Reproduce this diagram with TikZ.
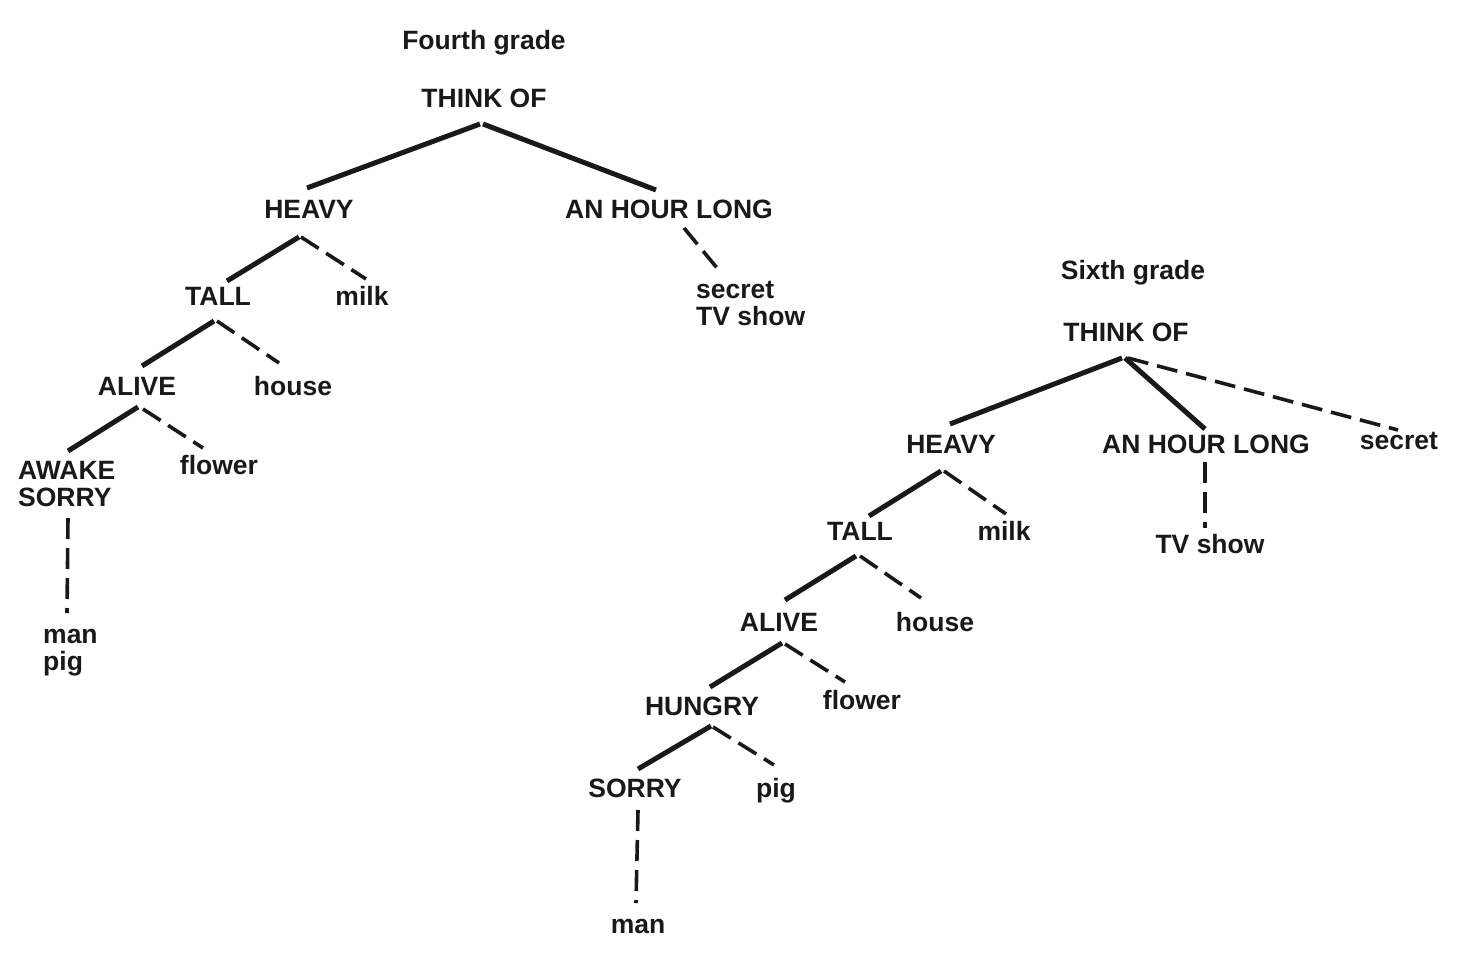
\documentclass[tikz,border=0pt]{standalone}
\usepackage{fontspec}
\setmainfont{Liberation Sans}
\begin{document}
\begin{tikzpicture}[x=1pt,y=-1pt,
  lbl/.style={anchor=base,inner sep=0pt,font=\fontsize{26.5}{27}\selectfont\bfseries,text=black!90},
  lblw/.style={lbl,anchor=base west,align=left},
  solidedge/.style={line width=5pt,black!90,line cap=butt},
  dashedge/.style={line width=3.6pt,black!90,line cap=butt,dash pattern=on 21pt off 9pt}]
\useasboundingbox (0,0) rectangle (1458,958);
% ---------- Fourth grade ----------
\node[lbl] (g4) at (484,50) {Fourth grade};
\node[lbl] (t4) at (484,107) {THINK OF};
\node[lbl] (hv4) at (309,218) {HEAVY};
\node[lbl] (hr4) at (669,218) {AN HOUR LONG};
\node[lblw] (sc4) at (696,325) {secret\\TV show};
\node[lbl] (tl4) at (218,305) {TALL};
\node[lbl] (mk4) at (362,305) {milk};
\node[lbl] (al4) at (137,395) {ALIVE};
\node[lbl] (hs4) at (293,395) {house};
\node[lblw] (aw4) at (18,506) {AWAKE\\SORRY};
\node[lbl] (fl4) at (219,474) {flower};
\node[lblw] (mp4) at (43,670) {man\\pig};
\coordinate (t4a) at (480,124); \coordinate (t4b) at (483,124);
\coordinate (hv4t) at (307,188); \coordinate (hr4t) at (656,190);
\coordinate (hr4b) at (684,228); \coordinate (sc4t) at (722,274);
\coordinate (hv4a) at (299,237); \coordinate (hv4b) at (301,237);
\coordinate (tl4t) at (227,281); \coordinate (mk4t) at (366,279);
\coordinate (tl4a) at (214,321); \coordinate (tl4b) at (217,321);
\coordinate (al4t) at (142,366); \coordinate (hs4t) at (279,363);
\coordinate (al4a) at (138,407); \coordinate (al4b) at (143,409);
\coordinate (aw4t) at (68,451); \coordinate (fl4t) at (203,448);
\coordinate (aw4b) at (68,518); \coordinate (mp4t) at (67,613);
\draw[solidedge] (t4a) -- (hv4t);
\draw[solidedge] (t4b) -- (hr4t);
\draw[dashedge] (hr4b) -- (sc4t);
\draw[solidedge] (hv4a) -- (tl4t);
\draw[dashedge] (hv4b) -- (mk4t);
\draw[solidedge] (tl4a) -- (al4t);
\draw[dashedge] (tl4b) -- (hs4t);
\draw[solidedge] (al4a) -- (aw4t);
\draw[dashedge] (al4b) -- (fl4t);
\draw[dashedge] (aw4b) -- (mp4t);
% ---------- Sixth grade ----------
\node[lbl] (g6) at (1133,279) {Sixth grade};
\node[lbl] (t6) at (1126,341) {THINK OF};
\node[lbl] (hv6) at (951,453) {HEAVY};
\node[lbl] (hr6) at (1206,453) {AN HOUR LONG};
\node[lbl] (sc6) at (1399,449) {secret};
\node[lbl] (tv6) at (1210,553) {TV show};
\node[lbl] (tl6) at (860,540) {TALL};
\node[lbl] (mk6) at (1004,540) {milk};
\node[lbl] (al6) at (779,631) {ALIVE};
\node[lbl] (hs6) at (935,631) {house};
\node[lbl] (hu6) at (702,715) {HUNGRY};
\node[lbl] (fl6) at (862,709) {flower};
\node[lbl] (so6) at (635,797) {SORRY};
\node[lbl] (pg6) at (776,797) {pig};
\node[lbl] (mn6) at (638,933) {man};
\coordinate (t6a) at (1122,358); \coordinate (t6b) at (1125,358); \coordinate (t6c) at (1128,358);
\coordinate (hv6t) at (950,424); \coordinate (hr6t) at (1205,429); \coordinate (sc6t) at (1398,430);
\coordinate (hr6b) at (1205,462); \coordinate (tv6t) at (1205,528);
\coordinate (hv6a) at (941,471); \coordinate (hv6b) at (944,471);
\coordinate (tl6t) at (869,516); \coordinate (mk6t) at (1006,514);
\coordinate (tl6a) at (856,556); \coordinate (tl6b) at (860,556);
\coordinate (al6t) at (785,600); \coordinate (hs6t) at (921,598);
\coordinate (al6a) at (782,643); \coordinate (al6b) at (785,644);
\coordinate (hu6t) at (710,687); \coordinate (fl6t) at (845,682);
\coordinate (hu6a) at (711,726); \coordinate (hu6b) at (713,727);
\coordinate (so6t) at (638,769); \coordinate (pg6t) at (774,765);
\coordinate (so6b) at (638,810); \coordinate (mn6t) at (636,903);
\draw[solidedge] (t6a) -- (hv6t);
\draw[solidedge] (t6b) -- (hr6t);
\draw[dashedge] (t6c) -- (sc6t);
\draw[dashedge] (hr6b) -- (tv6t);
\draw[solidedge] (hv6a) -- (tl6t);
\draw[dashedge] (hv6b) -- (mk6t);
\draw[solidedge] (tl6a) -- (al6t);
\draw[dashedge] (tl6b) -- (hs6t);
\draw[solidedge] (al6a) -- (hu6t);
\draw[dashedge] (al6b) -- (fl6t);
\draw[solidedge] (hu6a) -- (so6t);
\draw[dashedge] (hu6b) -- (pg6t);
\draw[dashedge] (so6b) -- (mn6t);
\end{tikzpicture}
\end{document}
